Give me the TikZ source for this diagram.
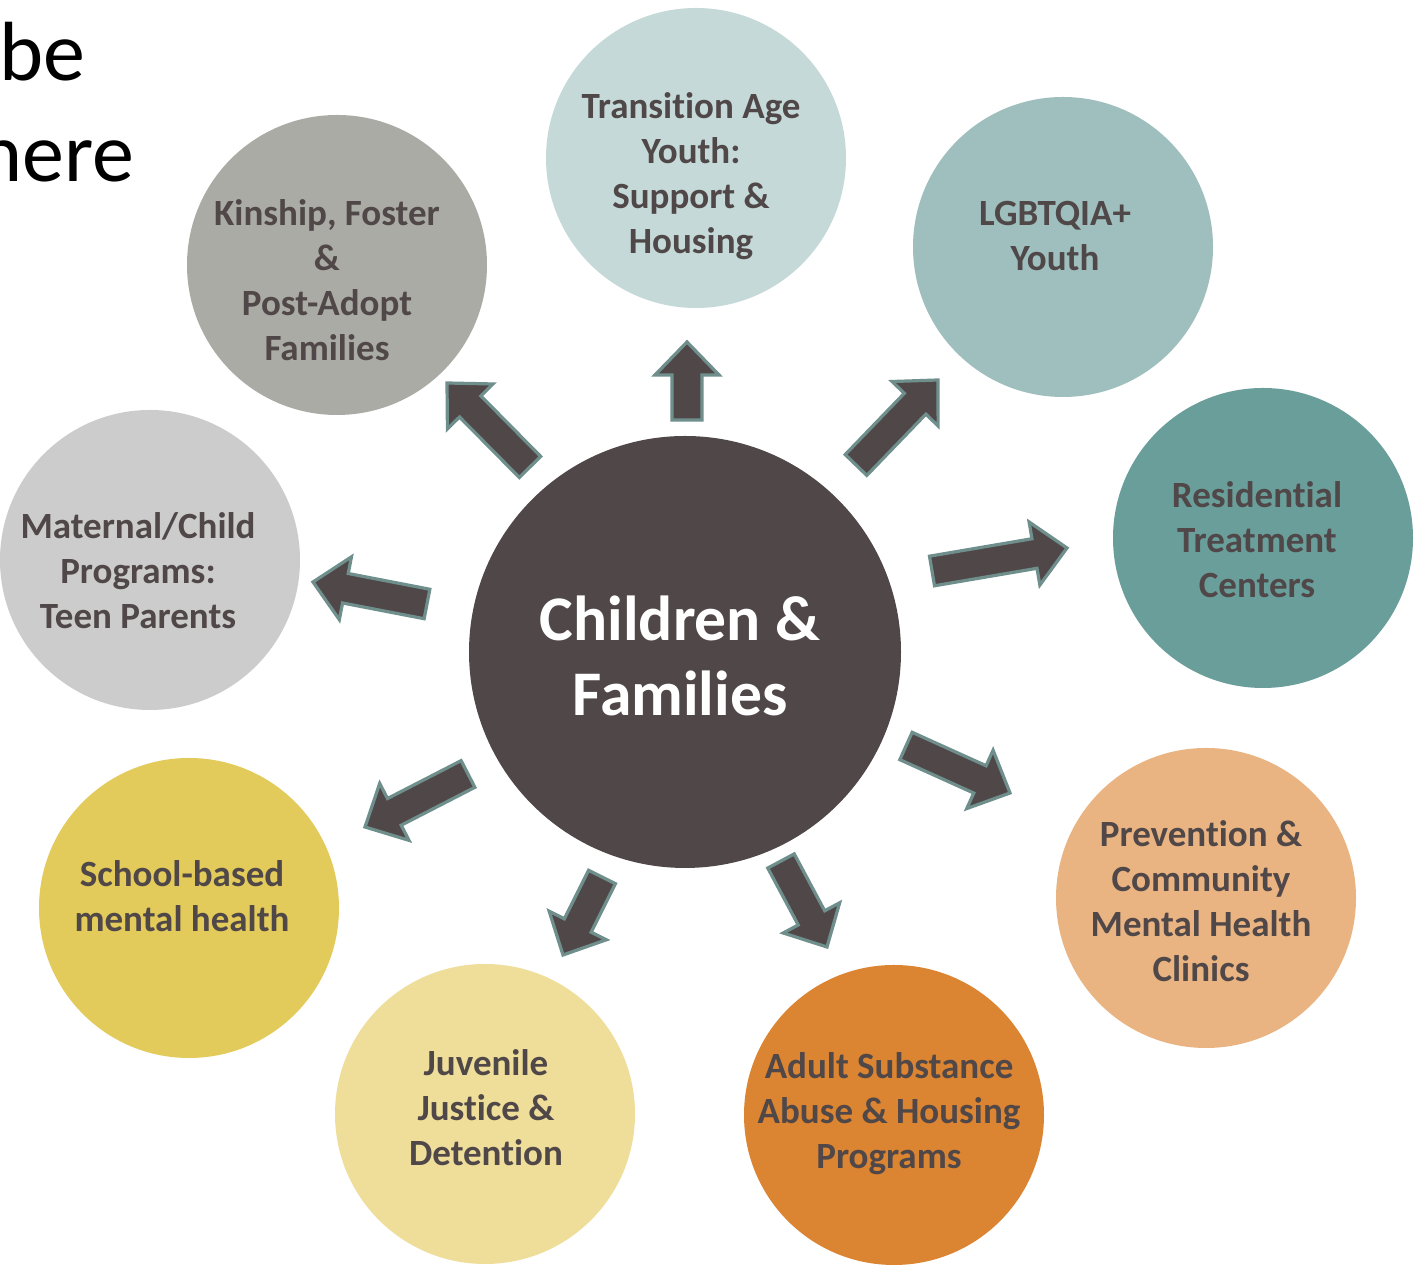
\documentclass[tikz,border=0pt]{standalone}
\usepackage{fontspec}
\setmainfont{Carlito}[Ligatures=NoCommon]
\usepackage{tikz}
\usetikzlibrary{calc,positioning}

\definecolor{hub}{HTML}{504748}
\definecolor{rim}{HTML}{6F8F8D}
\definecolor{tayouth}{HTML}{C5DAD8}
\definecolor{lgbt}{HTML}{9EBFBE}
\definecolor{resid}{HTML}{6A9E9A}
\definecolor{prevent}{HTML}{E9B482}
\definecolor{adult}{HTML}{DB8431}
\definecolor{juvenile}{HTML}{EEDE9A}
\definecolor{school}{HTML}{E2CB5A}
\definecolor{maternal}{HTML}{CCCCCC}
\definecolor{kinship}{HTML}{ABABA6}

% block arrow from tail coordinate #1 to tip coordinate #2
\newcommand{\bigarrow}[2]{%
  \draw[blockarrow] let \p1=($(#2)!16.5pt!(#1)$) in
    ($(#1)!7.5pt!90:(#2)$) -- ($(\p1)!7.5pt!90:(#2)$) -- ($(\p1)!16pt!90:(#2)$)
    -- (#2) -- ($(\p1)!16pt!-90:(#2)$) -- ($(\p1)!7.5pt!-90:(#2)$)
    -- ($(#1)!7.5pt!-90:(#2)$) -- cycle;
}

\begin{document}
\begin{tikzpicture}
[
	x	= 0.5pt,	% one unit is one pixel of the slide
	y	= 0.5pt,
	bubble/.style	= {circle, minimum size=150pt, inner sep=0pt},
	bubbletext/.style	= {align=center, text=hub, inner sep=0pt,
		font=\bfseries\fontsize{18.5}{22.5}\selectfont},
	blockarrow/.style	= {fill=hub, draw=rim, line width=1.6pt, line join=miter},
]

\useasboundingbox (0,0) rectangle (1415,1268);
\fill[white] (0,0) rectangle (1415,1268);

% left-over text of the slide
\node [anchor=base east, inner sep=0pt, font=\fontsize{42}{50}\selectfont] (be) at (86,1187) {be};
\node [anchor=base east, inner sep=0pt, font=\fontsize{42}{50}\selectfont] (here) at (135,1086) {here};

% the hub
\node [circle, minimum size=216pt, inner sep=0pt, fill=hub] (hub) at (685,616) {};
\node [align=center, text=white, inner sep=0pt, font=\bfseries\fontsize{31.8}{37.5}\selectfont]
	(hubtext) at (680,612) {Children \&\\Families};

% the bubbles
\node [bubble, fill=tayouth]  (tay)  at (696,1110) {};
\node [bubble, fill=lgbt]     (lgbt) at (1063,1021) {};
\node [bubble, fill=resid]    (res)  at (1263,730) {};
\node [bubble, fill=prevent]  (prev) at (1206,370) {};
\node [bubble, fill=adult]    (adu)  at (894,153) {};
\node [bubble, fill=juvenile] (juv)  at (485,154) {};
\node [bubble, fill=school]   (sch)  at (189,360) {};
\node [bubble, fill=maternal] (mat)  at (150,708) {};
\node [bubble, fill=kinship]  (kin)  at (337,1003) {};

\node [bubbletext] (taytext)  at (691,1092) {Transition Age\\Youth:\\Support \&\\Housing};
\node [bubbletext] (lgbttext) at (1055,1032) {LGBTQIA+\\Youth};
\node [bubbletext] (restext)  at (1257,728) {Residential\\Treatment\\Centers};
\node [bubbletext] (prevtext) at (1201,367) {Prevention \&\\Community\\Mental Health\\Clinics};
\node [bubbletext] (adutext)  at (889,154) {Adult Substance\\Abuse \& Housing\\Programs};
\node [bubbletext] (juvtext)  at (486,160) {Juvenile\\Justice \&\\Detention};
\node [bubbletext] (schtext)  at (182,372) {School-based\\mental health};
\node [bubbletext] (mattext)  at (138,697) {Maternal/Child\\Programs:\\Teen Parents};
\node [bubbletext] (kintext)  at (327,988) {Kinship, Foster\\\&\\Post-Adopt\\Families};

% tails and tips of the arrows
\coordinate (t1) at (687,848);	\coordinate (p1) at (687,926);
\coordinate (t2) at (856,803);	\coordinate (p2) at (938,888);
\coordinate (t3) at (932,697);	\coordinate (p3) at (1067,720);
\coordinate (t4) at (906,522);	\coordinate (p4) at (1010,475);
\coordinate (t5) at (781,407);	\coordinate (p5) at (827,321);
\coordinate (t6) at (602,391);	\coordinate (p6) at (563,313);
\coordinate (t7) at (468,494);	\coordinate (p7) at (365,441);
\coordinate (t8) at (427,664);	\coordinate (p8) at (313,686);
\coordinate (t9) at (530,801);	\coordinate (p9) at (447,885);

\foreach \i in {1,...,9} {\bigarrow{t\i}{p\i}}

\end{tikzpicture}
\end{document}
